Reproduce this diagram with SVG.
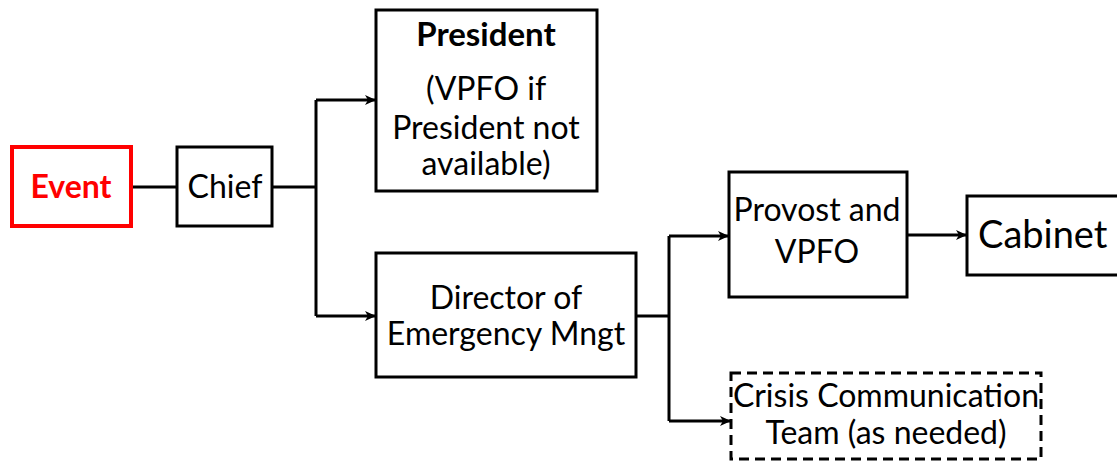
<svg xmlns="http://www.w3.org/2000/svg" width="1117" height="461" viewBox="0 0 1117 461">
<defs>
<marker id="ah" markerWidth="11" markerHeight="10" refX="10" refY="5" orient="auto" markerUnits="userSpaceOnUse">
<path d="M0,0 L11,5 L0,10 L3,5 Z" fill="#000"/>
</marker>
<style>
.box{fill:#fff;stroke:#000;stroke-width:3}
.t{font-family:Lato,"Open Sans","Liberation Sans",sans-serif;font-size:32px;fill:#000;text-anchor:middle}
.c{fill:none;stroke:#000;stroke-width:3}
</style>
</defs>
<rect width="1117" height="461" fill="#fff"/>
<g id="connectors">
<line class="c" x1="132" y1="187" x2="177" y2="187"/>
<line class="c" x1="272" y1="187" x2="316" y2="187"/>
<polyline class="c" points="316,100 316,316"/>
<line class="c" x1="316" y1="100" x2="375" y2="100" marker-end="url(#ah)"/>
<line class="c" x1="316" y1="316" x2="375" y2="316" marker-end="url(#ah)"/>
<line class="c" x1="636" y1="316" x2="669" y2="316"/>
<polyline class="c" points="669,236 669,421"/>
<line class="c" x1="669" y1="236" x2="728" y2="236" marker-end="url(#ah)"/>
<line class="c" x1="669" y1="421" x2="730" y2="421" marker-end="url(#ah)"/>
<line class="c" x1="907" y1="235" x2="966" y2="235" marker-end="url(#ah)"/>
</g>
<g id="event">
<rect x="12" y="147" width="119" height="79" fill="#fff" stroke="#f00" stroke-width="4"/>
<text class="t" x="71" y="198" font-weight="bold" style="fill:#f00">Event</text>
</g>
<g id="chief">
<rect class="box" x="177" y="147" width="95" height="79"/>
<text class="t" x="225" y="198">Chief</text>
</g>
<g id="president">
<rect class="box" x="376" y="10" width="221" height="181"/>
<text class="t" x="486" y="46" font-weight="bold" style="font-size:33px">President</text>
<text class="t" x="486" y="100">(VPFO if</text>
<text class="t" x="486" y="139">President not</text>
<text class="t" x="486" y="175">available)</text>
</g>
<g id="director">
<rect class="box" x="376" y="253" width="260" height="124"/>
<text class="t" x="506" y="309">Director of</text>
<text class="t" x="506" y="345">Emergency Mngt</text>
</g>
<g id="provost">
<rect class="box" x="729" y="172" width="178" height="125"/>
<text class="t" x="817" y="221">Provost and</text>
<text class="t" x="817" y="263">VPFO</text>
</g>
<g id="cabinet">
<rect class="box" x="967" y="196" width="160" height="79"/>
<text class="t" x="978" y="248" style="text-anchor:start;font-size:38px">Cabinet</text>
</g>
<g id="crisis">
<rect x="731" y="373" width="310" height="86" fill="#fff" stroke="#000" stroke-width="3" stroke-dasharray="10,6"/>
<text class="t" x="886" y="407">Crisis Communication</text>
<text class="t" x="886" y="444">Team (as needed)</text>
</g>
</svg>
